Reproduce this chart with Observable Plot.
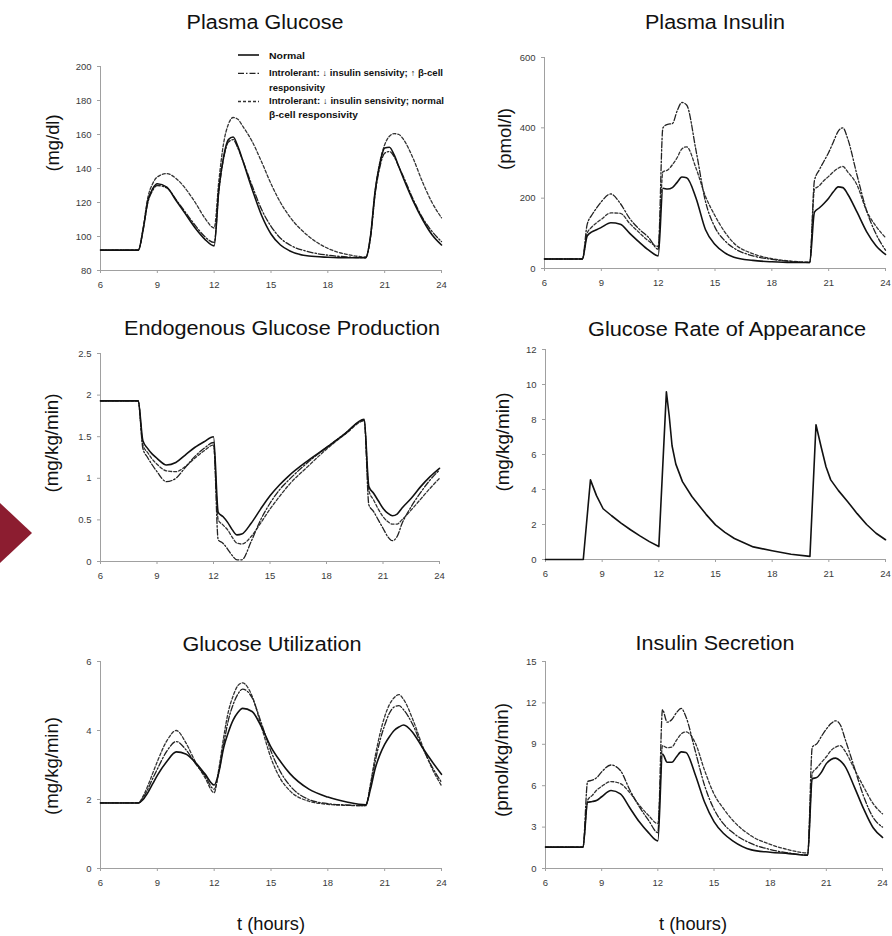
<!DOCTYPE html>
<html><head><meta charset="utf-8">
<script src="https://cdn.jsdelivr.net/npm/d3@7"></script>
<script src="https://cdn.jsdelivr.net/npm/@observablehq/plot@0.6"></script>
<style>
html,body{margin:0;padding:0;background:#fff;}
#root{position:relative;width:892px;height:936px;overflow:hidden;background:#fff;font-family:"Liberation Sans",Arial,sans-serif;}
#root svg{position:absolute;}
</style></head><body><div id="root"></div>
<script>
// ---------- data ----------
const hours = [6, 8, 8.25, 8.5, 8.75, 9, 9.5, 10, 10.5, 11, 11.5, 12, 12.25, 12.5, 12.75, 13, 13.25, 13.5, 14, 14.5, 15, 15.5, 16, 17, 18, 19, 20, 20.25, 20.5, 20.75, 21, 21.25, 21.5, 21.75, 22, 22.5, 23, 23.5, 24];
const hourTicks = [6, 9, 12, 15, 18, 21, 24];

const glucoseNormal     = [92, 92, 104, 121, 128, 131, 129, 121, 113, 105, 98.5, 94.5, 128, 147, 157, 158.5, 153, 145, 128, 112.5, 101.5, 95, 91.5, 88.5, 87.8, 87.5, 87.5, 100, 127, 143, 152, 152.5, 148, 141, 134, 121, 110, 101, 95];
const glucoseHighBeta   = [92, 92, 104, 120, 127, 130, 128.5, 121.5, 114, 106.5, 100, 96.5, 127, 146, 155.5, 157, 152, 145, 130, 116, 106, 99, 95, 91, 89, 88, 87.5, 99, 125, 141, 149, 150, 147, 141, 135, 122, 111, 103, 97];
const glucoseNormalBeta = [92, 92, 105, 123, 131, 135, 137, 134, 128, 120, 111, 105, 133, 155, 166, 170, 169, 165, 156, 144, 131, 120, 111.5, 100, 93, 89.5, 88, 100, 127, 144, 154, 159, 160.5, 160, 157, 146, 132, 120, 111];
const glucoseTicks = [80, 100, 120, 140, 160, 180, 200];

const insulinNormal     = [27, 27, 92, 104, 110, 117, 130, 126, 100, 75, 52, 36, 228, 226, 230, 245, 260, 258, 200, 110, 68, 45, 32, 23, 19, 17, 17, 160, 172, 185, 200, 218, 232, 230, 212, 160, 105, 65, 40];
const insulinHighBeta   = [27, 27, 125, 152, 172, 190, 212, 185, 142, 112, 88, 55, 400, 410, 412, 448, 472, 465, 335, 190, 117, 80, 58, 36, 26, 20, 17, 250, 280, 305, 330, 360, 390, 400, 370, 265, 165, 98, 52];
const insulinNormalBeta = [27, 27, 100, 118, 130, 140, 158, 157, 128, 102, 78, 63, 275, 280, 295, 315, 340, 346, 285, 205, 150, 105, 72, 42, 28, 21, 18, 225, 235, 250, 262, 275, 285, 290, 275, 237, 164, 120, 88];
const insulinTicks = [0, 200, 400, 600];

const egpNormal     = [1.93, 1.93, 1.45, 1.36, 1.29, 1.24, 1.16, 1.19, 1.28, 1.37, 1.44, 1.50, 0.59, 0.54, 0.47, 0.38, 0.32, 0.33, 0.46, 0.63, 0.79, 0.92, 1.03, 1.21, 1.37, 1.54, 1.71, 0.90, 0.82, 0.73, 0.64, 0.58, 0.55, 0.57, 0.64, 0.76, 0.90, 1.02, 1.12];
const egpHighBeta   = [1.93, 1.93, 1.36, 1.25, 1.16, 1.08, 0.96, 1.00, 1.13, 1.26, 1.36, 1.43, 0.26, 0.22, 0.15, 0.07, 0.02, 0.02, 0.24, 0.50, 0.70, 0.86, 0.98, 1.19, 1.37, 1.54, 1.70, 0.68, 0.60, 0.50, 0.40, 0.30, 0.25, 0.30, 0.45, 0.66, 0.83, 0.98, 1.10];
const egpNormalBeta = [1.93, 1.93, 1.40, 1.31, 1.23, 1.17, 1.09, 1.08, 1.14, 1.24, 1.33, 1.40, 0.50, 0.44, 0.38, 0.29, 0.22, 0.21, 0.30, 0.46, 0.63, 0.78, 0.92, 1.14, 1.35, 1.53, 1.69, 0.85, 0.74, 0.63, 0.54, 0.48, 0.45, 0.45, 0.50, 0.62, 0.75, 0.88, 1.00];
const egpTicks = [0, 0.5, 1, 1.5, 2, 2.5];

const hoursRa = [6, 8, 8.38, 8.7, 9.05, 9.5, 10, 10.5, 11, 11.5, 12, 12.4, 12.55, 12.7, 12.9, 13.25, 13.75, 14.5, 15, 15.5, 16, 17, 18, 19, 20, 20.32, 20.6, 20.85, 21.1, 21.5, 22, 22.5, 23, 23.5, 24];
const glucoseRa = [0, 0, 4.55, 3.65, 2.9, 2.5, 2.08, 1.7, 1.35, 1.02, 0.74, 9.58, 8.2, 6.5, 5.45, 4.45, 3.6, 2.58, 1.98, 1.55, 1.2, 0.72, 0.5, 0.3, 0.18, 7.7, 6.4, 5.3, 4.55, 3.95, 3.3, 2.62, 2.0, 1.5, 1.13];
const raTicks = [0, 2, 4, 6, 8, 10, 12];

const utilNormal     = [1.9, 1.9, 2.0, 2.2, 2.45, 2.7, 3.1, 3.38, 3.32, 3.08, 2.75, 2.42, 2.8, 3.5, 3.95, 4.3, 4.52, 4.64, 4.55, 4.1, 3.52, 3.1, 2.75, 2.3, 2.07, 1.93, 1.85, 2.3, 2.9, 3.3, 3.6, 3.82, 4.0, 4.1, 4.16, 3.93, 3.5, 3.1, 2.73];
const utilHighBeta   = [1.9, 1.9, 2.05, 2.3, 2.6, 2.88, 3.4, 3.68, 3.45, 3.05, 2.7, 2.3, 2.8, 3.6, 4.3, 4.75, 5.05, 5.2, 4.95, 4.2, 3.4, 2.8, 2.4, 2.0, 1.88, 1.84, 1.82, 2.4, 3.1, 3.7, 4.15, 4.5, 4.68, 4.72, 4.6, 4.15, 3.5, 2.95, 2.5];
const utilNormalBeta = [1.9, 1.9, 2.1, 2.4, 2.75, 3.1, 3.7, 4.0, 3.65, 3.1, 2.65, 2.2, 2.9, 3.8, 4.55, 5.0, 5.3, 5.38, 5.0, 4.1, 3.2, 2.6, 2.25, 1.95, 1.86, 1.83, 1.82, 2.45, 3.25, 3.9, 4.4, 4.75, 4.95, 5.04, 4.9, 4.3, 3.55, 2.9, 2.4];
const utilTicks = [0, 2, 4, 6];

const secretionNormal     = [1.55, 1.55, 4.8, 4.85, 4.95, 5.2, 5.65, 5.4, 4.4, 3.4, 2.6, 2.0, 8.3, 7.7, 7.7, 8.1, 8.45, 8.4, 6.8, 4.8, 3.4, 2.55, 2.0, 1.35, 1.18, 1.08, 0.96, 6.5, 6.6, 7.0, 7.6, 7.9, 8.0, 7.8, 7.4, 5.9, 4.3, 2.95, 2.25];
const secretionHighBeta   = [1.55, 1.55, 6.3, 6.4, 6.6, 7.0, 7.5, 7.1, 5.7, 4.5, 3.5, 2.6, 11.5, 10.6, 10.8, 11.3, 11.6, 11.0, 8.5, 6.0, 4.3, 3.25, 2.6, 1.8, 1.38, 1.12, 0.98, 8.8, 9.05, 9.6, 10.1, 10.5, 10.7, 10.4, 9.4, 7.3, 5.2, 3.7, 3.0];
const secretionNormalBeta = [1.55, 1.55, 4.95, 5.3, 5.7, 5.95, 6.3, 6.15, 5.5, 4.6, 3.85, 3.25, 8.9, 8.75, 8.8, 9.3, 9.75, 9.9, 9.1, 7.1, 5.4, 4.35, 3.5, 2.35, 1.75, 1.35, 1.13, 6.9, 7.3, 7.7, 8.1, 8.55, 8.8, 8.9, 8.5, 7.2, 5.9, 4.7, 3.96];
const secretionTicks = [0, 3, 6, 9, 12, 15];

const titles = ["Plasma Glucose", "Plasma Insulin", "Endogenous Glucose Production", "Glucose Rate of Appearance", "Glucose Utilization", "Insulin Secretion"];
const units = ["(mg/dl)", "(pmol/l)", "(mg/kg/min)", "(mg/kg/min)", "(mg/kg/min)", "(pmol/kg/min)"];
const xTitle = "t (hours)";
const legendLines = [
  ["Normal"],
  ["Introlerant: \u2193 insulin sensivity; \u2191 \u03b2-cell", "responsivity"],
  ["Introlerant: \u2193 insulin sensivity;  normal", "\u03b2-cell responsivity"]
];

// ---------- styles ----------
const lineStyles = {
  normal:     {stroke: "#111", strokeWidth: 1.6, strokeDasharray: null},
  highBeta:   {stroke: "#222", strokeWidth: 1.3, strokeDasharray: "6,2,1.5,2"},
  normalBeta: {stroke: "#333", strokeWidth: 1.3, strokeDasharray: "3,2"}
};
const axisGray = "#a0a0a0";
const FONT = "Liberation Sans, Arial, sans-serif";

const panels = [
  {x0: 100, x1: 441, yt: 66, yb: 270, domain: [80, 200], ticks: glucoseTicks,
   series: [["normalBeta", hours, glucoseNormalBeta], ["highBeta", hours, glucoseHighBeta], ["normal", hours, glucoseNormal]],
   tx: 265, ty: 22, tw: 157, lx: 54, ly: 143, lw: 57},
  {x0: 544, x1: 885, yt: 57, yb: 268, domain: [0, 600], ticks: insulinTicks,
   series: [["normalBeta", hours, insulinNormalBeta], ["highBeta", hours, insulinHighBeta], ["normal", hours, insulinNormal]],
   tx: 715, ty: 22, tw: 140, lx: 506, ly: 139, lw: 62},
  {x0: 100, x1: 439, yt: 353, yb: 561, domain: [0, 2.5], ticks: egpTicks,
   series: [["normalBeta", hours, egpNormalBeta], ["highBeta", hours, egpHighBeta], ["normal", hours, egpNormal]],
   tx: 282, ty: 328, tw: 316, lx: 53, ly: 443, lw: 99},
  {x0: 545, x1: 885, yt: 349, yb: 559, domain: [0, 12], ticks: raTicks, curve: "linear",
   series: [["normal", hoursRa, glucoseRa]],
   tx: 727, ty: 329.5, tw: 278, lx: 504, ly: 442, lw: 99},
  {x0: 100, x1: 441, yt: 661, yb: 868, domain: [0, 6], ticks: utilTicks,
   series: [["normalBeta", hours, utilNormalBeta], ["highBeta", hours, utilHighBeta], ["normal", hours, utilNormal]],
   tx: 272, ty: 644.5, tw: 179, lx: 53, ly: 766, lw: 98, xl: 271},
  {x0: 545, x1: 882, yt: 661, yb: 868, domain: [0, 15], ticks: secretionTicks,
   series: [["normalBeta", hours, secretionNormalBeta], ["highBeta", hours, secretionHighBeta], ["normal", hours, secretionNormal]],
   tx: 715, ty: 643, tw: 159, lx: 503, ly: 760, lw: 114, xl: 693}
];

const root = document.getElementById("root");

function drawPanel(p) {
  const ml = 40, mr = 14, mt = 8, mb = 30;
  const marks = [
    Plot.ruleX([6], {stroke: axisGray, strokeWidth: 1}),
    Plot.ruleY([p.domain[0]], {stroke: axisGray, strokeWidth: 1}),
    Plot.axisX({ticks: hourTicks, tickSize: 3, tickPadding: 8, tickFormat: d => String(d),
                stroke: axisGray, fill: "#3a3a3a", fontSize: 9.5, label: null}),
    Plot.axisY({ticks: p.ticks, tickSize: 3, tickPadding: 6, tickFormat: d => String(d),
                stroke: axisGray, fill: "#3a3a3a", fontSize: 9.5, label: null})
  ];
  for (const [kind, ts, vs] of p.series) {
    const rows = ts.map((t, i) => ({t, v: vs[i]}));
    const st = lineStyles[kind];
    const opts = {x: "t", y: "v", curve: p.curve || "monotone-x", stroke: st.stroke, strokeWidth: st.strokeWidth};
    if (st.strokeDasharray) opts.strokeDasharray = st.strokeDasharray;
    marks.push(Plot.line(rows, opts));
  }
  const svg = Plot.plot({
    width: p.x1 - p.x0 + ml + mr,
    height: p.yb - p.yt + mt + mb,
    marginLeft: ml, marginRight: mr, marginTop: mt, marginBottom: mb,
    style: {background: "transparent", overflow: "visible", maxWidth: "none", fontFamily: FONT, fontSize: "10px", color: "#333"},
    x: {domain: [6, 24], label: null},
    y: {domain: p.domain, label: null},
    marks
  });
  svg.style.position = "absolute";
  svg.style.left = (p.x0 - ml) + "px";
  svg.style.top = (p.yt - mt) + "px";
  root.appendChild(svg);
}
panels.forEach(drawPanel);

// ---------- text overlay: titles, unit labels, x titles, legend ----------
const overlay = d3.select(root).append("svg")
  .attr("width", 892).attr("height", 936)
  .style("left", "0px").style("top", "0px").style("pointer-events", "none")
  .attr("font-family", FONT);

// decorative arrow shape at the left edge
overlay.append("polygon").attr("points", "0,503 32,533 0,563").attr("fill", "#8c1d30");

function addText(s, x, y, size, len, rotate, anchor, weight) {
  const t = overlay.append("text").attr("font-size", size).attr("fill", "#111")
    .attr("text-anchor", anchor || "middle").text(s);
  if (weight) t.attr("font-weight", weight);
  if (len) t.attr("textLength", len).attr("lengthAdjust", "spacingAndGlyphs");
  if (rotate) {
    const px = x + 0.26 * size;
    t.attr("x", px).attr("y", y).attr("transform", `rotate(-90 ${px} ${y})`);
  } else {
    t.attr("x", x).attr("y", y);
  }
  return t;
}

panels.forEach((p, i) => {
  addText(titles[i], p.tx, p.ty + 0.358 * 19.5, 19.5, p.tw, false);
  addText(units[i], p.lx, p.ly, 17.5, p.lw, true);
  if (p.xl) addText(xTitle, p.xl, 925.5 + 0.26 * 18, 18, 68, false);
});

// legend (Plasma Glucose panel)
const legX = 269, sx0 = 238, sx1 = 259;
const legendRows = [
  {kind: "normal", sampleY: 55, lines: [[55.5, 36]]},
  {kind: "highBeta", sampleY: 73.3, lines: [[73.3, 174], [87.8, 56]]},
  {kind: "normalBeta", sampleY: 101.5, lines: [[101.2, 175], [114.5, 89]]}
];
legendRows.forEach((r, i) => {
  const st = lineStyles[r.kind];
  const ln = overlay.append("line").attr("x1", sx0).attr("x2", sx1).attr("y1", r.sampleY).attr("y2", r.sampleY)
    .attr("stroke", st.stroke).attr("stroke-width", st.strokeWidth);
  if (st.strokeDasharray) ln.attr("stroke-dasharray", st.strokeDasharray);
  r.lines.forEach(([cy, len], j) => {
    addText(legendLines[i][j], legX, cy + 0.358 * 8.5, 8.5, len, false, "start", "bold");
  });
});
</script></body></html>
